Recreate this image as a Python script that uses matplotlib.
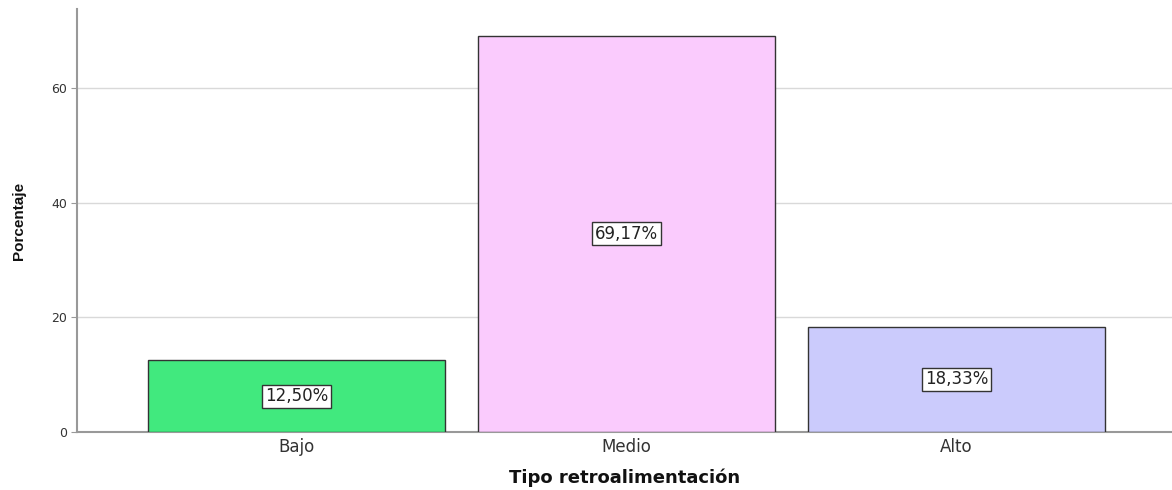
import matplotlib
matplotlib.use("Agg")
import matplotlib.pyplot as plt

categories = ["Bajo", "Medio", "Alto"]
percentages = [12.50, 69.17, 18.33]
bar_colors = ["#41E97E", "#FACBFD", "#CBCBFC"]
y_ticks = [0, 20, 40, 60]

plt.rcParams["font.family"] = ["DejaVu Sans"]

fig = plt.figure(figsize=(11.72, 4.9), dpi=100)
ax = fig.add_axes([0.0657, 0.1184, 0.9343, 0.8633])

x = list(range(len(categories)))
ax.bar(x, percentages, width=0.9, color=bar_colors, edgecolor="#333333",
       linewidth=1.0, zorder=3)

for xi, v in zip(x, percentages):
    label = f"{v:.2f}%".replace(".", ",")
    ax.text(xi, v / 2, label, ha="center", va="center", fontsize=12,
            color="#222222", zorder=4,
            bbox=dict(boxstyle="square,pad=0.15", facecolor="white",
                      edgecolor="#333333", linewidth=1.0))

ax.set_xlim(-0.665, 2.653)
ax.set_ylim(0, 73.8)
ax.set_xticks(x)
ax.set_xticklabels(categories, fontsize=12, color="#333333")
ax.set_yticks(y_ticks)
ax.set_yticklabels([str(t) for t in y_ticks], fontsize=9, color="#333333")
ax.tick_params(axis="x", length=0, pad=4)
ax.tick_params(axis="y", length=4, color="#999999", pad=3)

ax.yaxis.grid(True, color="#D9D9D9", linewidth=1.0, zorder=0)
ax.set_axisbelow(True)

for side in ["top", "right"]:
    ax.spines[side].set_visible(False)
for side in ["left", "bottom"]:
    ax.spines[side].set_color("#999999")
    ax.spines[side].set_linewidth(1.5)

ax.set_xlabel("Tipo retroalimentación", fontsize=13, fontweight="bold",
              color="#111111", labelpad=9)
ax.set_ylabel("Porcentaje", fontsize=11, fontweight="bold", color="#111111",
              labelpad=18, family=["Liberation Sans"])

fig.savefig("out.png", dpi=100, facecolor="white")
